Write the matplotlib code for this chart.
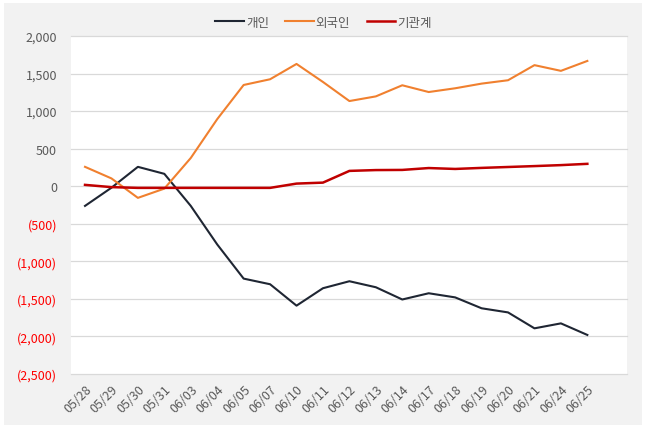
import matplotlib.pyplot as plt
from matplotlib.patches import Rectangle
from matplotlib.ticker import FuncFormatter, MultipleLocator

plt.rcParams['font.family'] = ['Noto Sans CJK KR', 'DejaVu Sans']

dates = ['05/28', '05/29', '05/30', '05/31', '06/03', '06/04', '06/05', '06/07',
         '06/10', '06/11', '06/12', '06/13', '06/14', '06/17', '06/18', '06/19',
         '06/20', '06/21', '06/24', '06/25']
individual = [-262, -20, 258, 165, -262, -775, -1230, -1305, -1590, -1358, -1265,
              -1345, -1508, -1425, -1480, -1625, -1680, -1892, -1826, -1980]
foreign = [258, 104, -155, -32, 376, 893, 1348, 1424, 1628, 1388, 1134,
           1196, 1344, 1254, 1304, 1366, 1411, 1612, 1536, 1668]
institution = [18, -12, -22, -22, -22, -22, -22, -22, 35, 48, 204,
               215, 217, 242, 230, 244, 256, 268, 281, 298]

W, H = 647, 431
fig = plt.figure(figsize=(W / 100, H / 100), dpi=100)
fig.patch.set_facecolor('white')
bg = Rectangle((4 / W, 5 / H), 638 / W, 422 / H, transform=fig.transFigure,
               facecolor='#F2F2F2', edgecolor='none', zorder=-10)
fig.patches.append(bg)

ax = fig.add_axes([71 / W, 1 - 375 / H, 556 / W, 338 / H])
ax.set_zorder(1)
ax.set_facecolor('white')

x = range(len(dates))
ax.plot(x, individual, color='#1F2633', lw=1.5, label='개인', zorder=3)
ax.plot(x, foreign, color='#F0802F', lw=1.5, label='외국인', zorder=3)
ax.plot(x, institution, color='#C00000', lw=1.8, label='기관계', zorder=4)

ax.set_ylim(-2500, 2000)
ax.set_xlim(-0.53, 20.5)
ax.yaxis.set_major_locator(MultipleLocator(500))
ax.yaxis.set_major_formatter(FuncFormatter(
    lambda v, p: f'({abs(v):,.0f})' if v < 0 else f'{v:,.0f}'))
ax.grid(axis='y', color='#D9D9D9', lw=0.9)
for gl in ax.get_ygridlines():
    gl.set_clip_on(False)
ax.set_axisbelow(True)
for s in ax.spines.values():
    s.set_visible(False)

ax.tick_params(axis='y', length=0, pad=10, labelsize=9)
ax.set_xticks(list(x))
ax.set_xticklabels(dates, rotation=45, ha='right', va='top',
                   rotation_mode='anchor', color='#595959', fontsize=9)
ax.tick_params(axis='x', length=0, pad=6)

fig.canvas.draw()
for t, lbl in zip(ax.get_yticks(), ax.get_yticklabels()):
    lbl.set_color('#FF0000' if t < 0 else '#595959')

fig.legend(loc='center', bbox_to_anchor=(0.5, 1 - 23 / H), ncol=3, frameon=False,
           fontsize=9, handlelength=2.3, handletextpad=0.15, columnspacing=1.3,
           labelcolor='#595959')

fig.savefig('out.png', dpi=100)
